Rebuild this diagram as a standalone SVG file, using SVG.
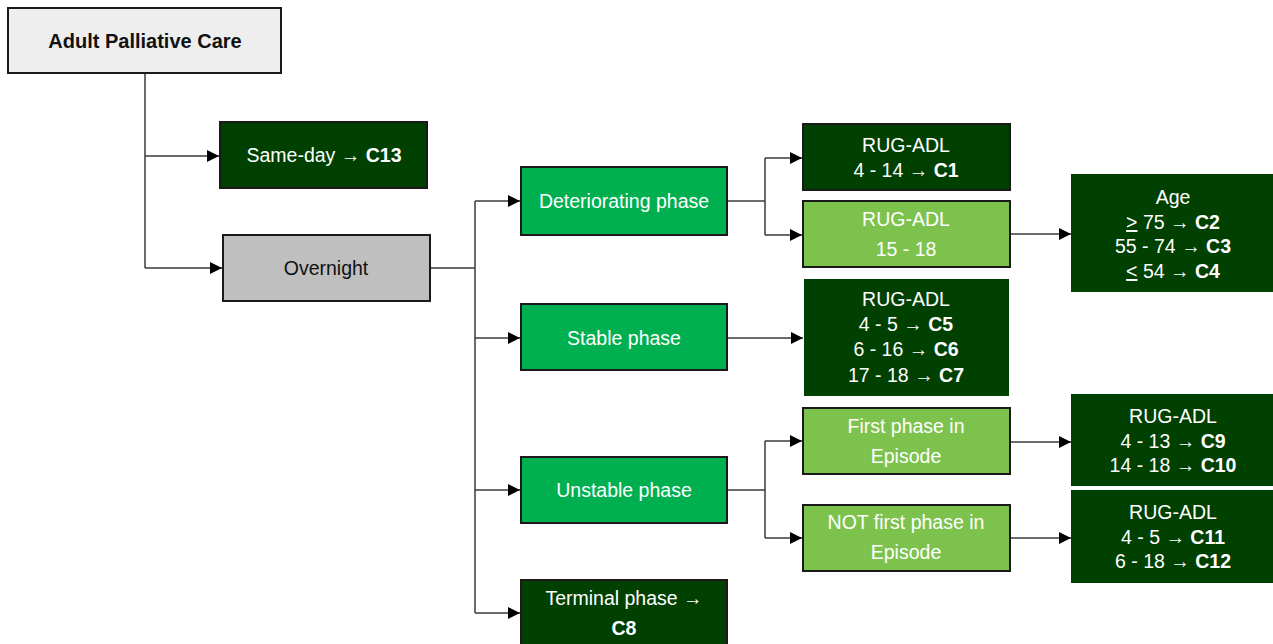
<svg xmlns="http://www.w3.org/2000/svg" width="1273" height="644" viewBox="0 0 1273 644">
<style>
.box{stroke:#1a1a1a;stroke-width:2}
.nb{stroke:none}
.root{fill:#eeeeee}
.gray{fill:#bfbfbf}
.dark{fill:#004000}
.mid{fill:#00b050}
.light{fill:#7ec24e}
text{font-family:"Liberation Sans",Arial,sans-serif;font-size:19.5px;text-anchor:middle}
.w{fill:#ffffff}
.k{fill:#111111}
.b{font-weight:bold}
.t{font-size:20px}
.c{fill:none;stroke:#3a3a3a;stroke-width:1.5}
</style>
<defs>
<marker id="ah" markerWidth="12" markerHeight="12" refX="12" refY="6" orient="auto" markerUnits="userSpaceOnUse">
<path d="M0,0 L12,6 L0,12 Z" fill="#000"/>
</marker>
</defs>
<g id="connectors">
<path class="c" d="M145,73 V268"/>
<path class="c" d="M145,156 H219" marker-end="url(#ah)"/>
<path class="c" d="M145,268 H222" marker-end="url(#ah)"/>
<path class="c" d="M430,268 H475"/>
<path class="c" d="M475,201 V613"/>
<path class="c" d="M475,201 H520" marker-end="url(#ah)"/>
<path class="c" d="M475,338 H520" marker-end="url(#ah)"/>
<path class="c" d="M475,490 H520" marker-end="url(#ah)"/>
<path class="c" d="M475,613 H520" marker-end="url(#ah)"/>
<path class="c" d="M727,201 H765"/>
<path class="c" d="M765,158 V235"/>
<path class="c" d="M765,158 H802" marker-end="url(#ah)"/>
<path class="c" d="M765,235 H802" marker-end="url(#ah)"/>
<path class="c" d="M727,338 H803" marker-end="url(#ah)"/>
<path class="c" d="M727,490 H765"/>
<path class="c" d="M765,441 V538"/>
<path class="c" d="M765,441 H802" marker-end="url(#ah)"/>
<path class="c" d="M765,538 H802" marker-end="url(#ah)"/>
<path class="c" d="M1010,234 H1071" marker-end="url(#ah)"/>
<path class="c" d="M1010,442 H1071" marker-end="url(#ah)"/>
<path class="c" d="M1010,538 H1071" marker-end="url(#ah)"/>
</g>
<g id="n-root">
<rect class="box root" x="8" y="8" width="273" height="65"/>
<text class="k b t" x="145" y="48">Adult Palliative Care</text>
</g>
<g id="n-sameday">
<rect class="box dark" x="220" y="122" width="207" height="66"/>
<text class="w" x="324" y="162">Same-day → <tspan class="b">C13</tspan></text>
</g>
<g id="n-overnight">
<rect class="box gray" x="223" y="235" width="207" height="66"/>
<text class="k" x="326" y="275">Overnight</text>
</g>
<g id="n-deter">
<rect class="box mid" x="521" y="167" width="206" height="68"/>
<text class="w" x="624" y="208">Deteriorating phase</text>
</g>
<g id="n-stable">
<rect class="box mid" x="521" y="304" width="206" height="66"/>
<text class="w" x="624" y="345">Stable phase</text>
</g>
<g id="n-unstable">
<rect class="box mid" x="521" y="457" width="206" height="66"/>
<text class="w" x="624" y="497">Unstable phase</text>
</g>
<g id="n-terminal">
<rect class="box dark" x="521" y="580" width="206" height="68"/>
<text class="w" x="624" y="605">Terminal phase →</text>
<text class="w b" x="624" y="635">C8</text>
</g>
<g id="n-c1">
<rect class="box dark" x="803" y="124" width="207" height="66"/>
<text class="w" x="906" y="152">RUG-ADL</text>
<text class="w" x="906" y="177">4 - 14 → <tspan class="b">C1</tspan></text>
</g>
<g id="n-1518">
<rect class="box light" x="803" y="201" width="207" height="66"/>
<text class="w" x="906" y="226">RUG-ADL</text>
<text class="w" x="906" y="256">15 - 18</text>
</g>
<g id="n-stablead">
<rect class="nb dark" x="804" y="279" width="205" height="117"/>
<text class="w" x="906" y="306">RUG-ADL</text>
<text class="w" x="906" y="331">4 - 5 → <tspan class="b">C5</tspan></text>
<text class="w" x="906" y="356">6 - 16 → <tspan class="b">C6</tspan></text>
<text class="w" x="906" y="382">17 - 18 → <tspan class="b">C7</tspan></text>
</g>
<g id="n-first">
<rect class="box light" x="803" y="408" width="207" height="66"/>
<text class="w" x="906" y="433">First phase in</text>
<text class="w" x="906" y="463">Episode</text>
</g>
<g id="n-notfirst">
<rect class="box light" x="803" y="505" width="207" height="66"/>
<text class="w" x="906" y="529">NOT first phase in</text>
<text class="w" x="906" y="559">Episode</text>
</g>
<g id="n-age">
<rect class="nb dark" x="1071" y="174" width="202" height="118"/>
<text class="w" x="1173" y="204">Age</text>
<text class="w" x="1173" y="229"><tspan text-decoration="underline">&gt;</tspan> 75 → <tspan class="b">C2</tspan></text>
<text class="w" x="1173" y="253">55 - 74 → <tspan class="b">C3</tspan></text>
<text class="w" x="1173" y="278"><tspan text-decoration="underline">&lt;</tspan> 54 → <tspan class="b">C4</tspan></text>
</g>
<g id="n-c9">
<rect class="nb dark" x="1071" y="394" width="202" height="92"/>
<text class="w" x="1173" y="423">RUG-ADL</text>
<text class="w" x="1173" y="448">4 - 13 → <tspan class="b">C9</tspan></text>
<text class="w" x="1173" y="472">14 - 18 → <tspan class="b">C10</tspan></text>
</g>
<g id="n-c11">
<rect class="nb dark" x="1071" y="490" width="202" height="93"/>
<text class="w" x="1173" y="519">RUG-ADL</text>
<text class="w" x="1173" y="544">4 - 5 → <tspan class="b">C11</tspan></text>
<text class="w" x="1173" y="568">6 - 18 → <tspan class="b">C12</tspan></text>
</g>
</svg>
